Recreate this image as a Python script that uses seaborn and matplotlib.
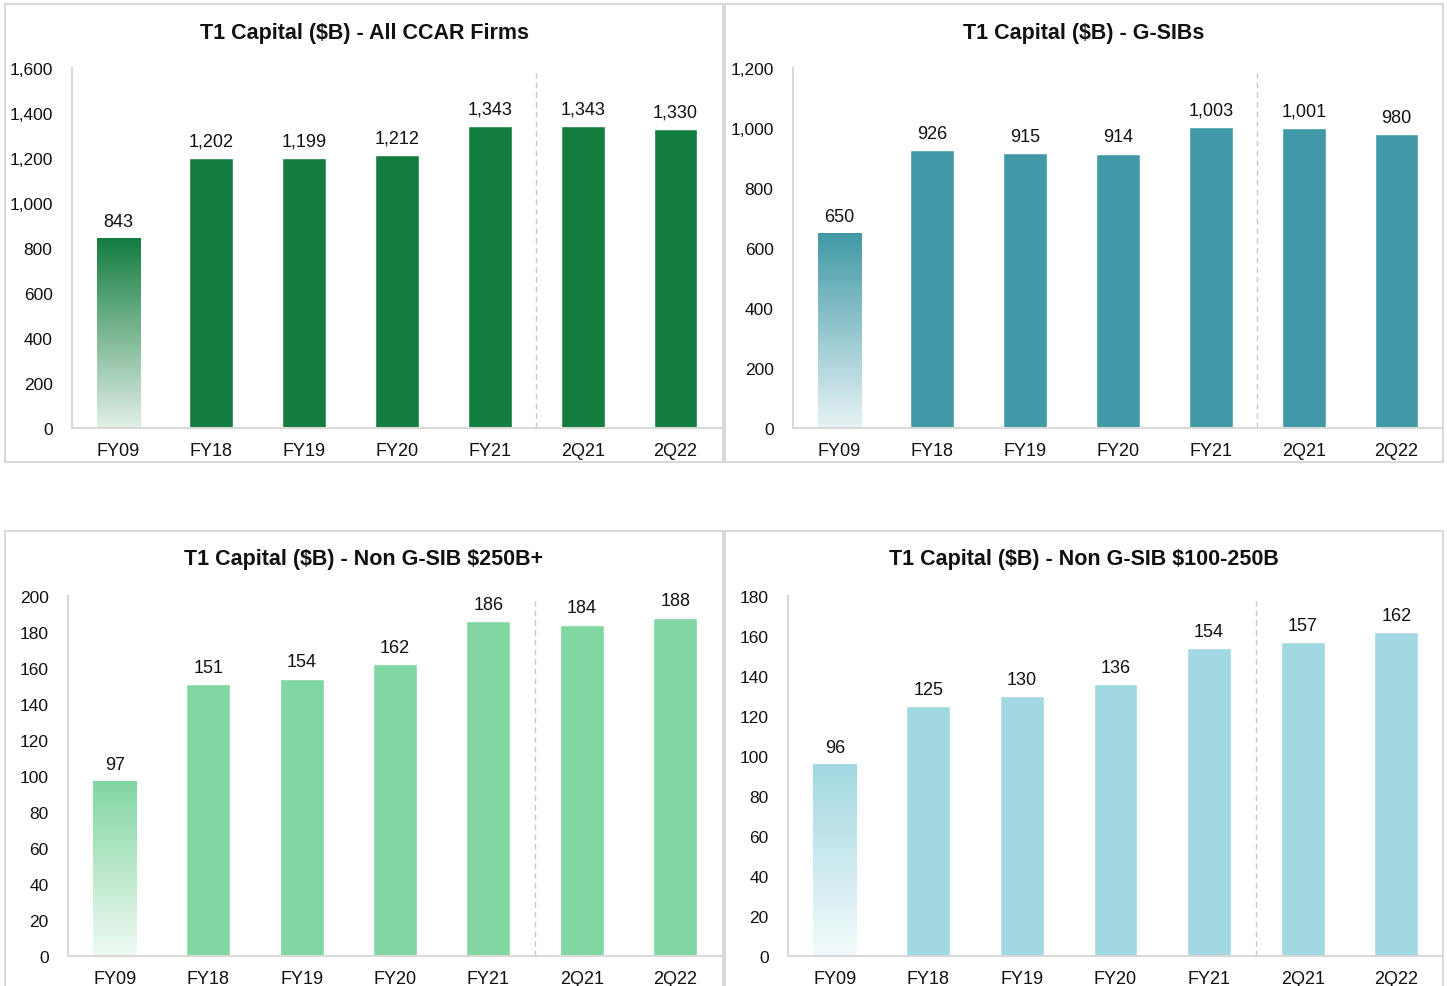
import numpy as np
import pandas as pd
import matplotlib
matplotlib.use("Agg")
import matplotlib.pyplot as plt
import seaborn as sns
from matplotlib.colors import LinearSegmentedColormap, to_rgb
from matplotlib.patches import Rectangle
from matplotlib.ticker import FuncFormatter

periods = ["FY09", "FY18", "FY19", "FY20", "FY21", "2Q21", "2Q22"]
all_ccar = [843, 1202, 1199, 1212, 1343, 1343, 1330]
gsibs = [650, 926, 915, 914, 1003, 1001, 980]
non_gsib_250 = [97, 151, 154, 162, 186, 184, 188]
non_gsib_100_250 = [96, 125, 130, 136, 154, 157, 162]

titles = [
    r"T1 Capital (\$B) - All CCAR Firms",
    r"T1 Capital (\$B) - G-SIBs",
    r"T1 Capital (\$B) - Non G-SIB \$250B+",
    r"T1 Capital (\$B) - Non G-SIB \$100-250B",
]
colors = ["#137d3f", "#4199a8", "#82d6a2", "#a2d8e1"]
y_max = [1600, 1200, 200, 180]
y_step = [200, 200, 20, 20]

sns.set_style("white")
plt.rcParams["font.family"] = ["Liberation Sans", "DejaVu Sans"]

fig = plt.figure(figsize=(14.47, 9.87), dpi=100)
W, H = 1447, 987

# axes boxes in pixels: left, right, top, bottom
ax_px = [(72, 722, 69, 429), (793, 1443, 69, 429),
         (68, 722, 597, 957), (788, 1443, 597, 957)]
panel_px = [(5, 723, 5, 463), (725, 1443, 5, 463),
            (5, 723, 532, 995), (725, 1443, 532, 995)]
title_y = [33, 33, 560, 560]

series = [all_ccar, gsibs, non_gsib_250, non_gsib_100_250]

for i in range(4):
    px0, px1, py0, py1 = panel_px[i]
    fig.patches.append(Rectangle((px0 / W, 1 - py1 / H), (px1 - px0) / W, (py1 - py0) / H,
                                 transform=fig.transFigure, fill=False,
                                 edgecolor="#d9d9d9", linewidth=1.5))
    fig.text((px0 + px1) / 2 / W, 1 - title_y[i] / H, titles[i], ha="center", va="center",
             fontsize=15.5, fontweight="bold", color="#111111")

    l, r, t, b = ax_px[i]
    ax = fig.add_axes([l / W, 1 - b / H, (r - l) / W, (b - t) / H])
    df = pd.DataFrame({"period": periods, "value": series[i]})
    sns.barplot(data=df, x="period", y="value", color=colors[i], saturation=1,
                width=0.47, ax=ax)

    # gradient fill for the first bar
    p = ax.patches[0]
    x0, w, h = p.get_x(), p.get_width(), p.get_height()
    rgb = np.array(to_rgb(colors[i]))
    light = rgb + (1 - rgb) * 0.88
    cmap = LinearSegmentedColormap.from_list("g", [light, rgb])
    grad = np.linspace(0, 1, 256).reshape(-1, 1)
    ax.imshow(grad, extent=[x0, x0 + w, 0, h], origin="lower", aspect="auto",
              cmap=cmap, zorder=p.get_zorder())
    p.set_visible(False)

    for j, v in enumerate(series[i]):
        ax.annotate(f"{v:,}", (j, v), xytext=(0, 6), textcoords="offset points",
                    ha="center", va="bottom", fontsize=13, color="#111111")

    ax.axvline(4.5, color="#c8c8c8", linestyle=(0, (4, 3)), linewidth=1)
    ax.set_xlim(-0.5, 6.5)
    ax.set_ylim(0, y_max[i])
    ax.set_yticks(np.arange(0, y_max[i] + 1, y_step[i]))
    ax.yaxis.set_major_formatter(FuncFormatter(lambda v, _: f"{int(v):,}"))
    ax.tick_params(axis="y", length=0, pad=14, labelsize=12.5, labelcolor="#111111")
    ax.tick_params(axis="x", length=0, pad=10, labelsize=13, labelcolor="#111111")
    ax.set_xlabel("")
    ax.set_ylabel("")
    for s in ["top", "right"]:
        ax.spines[s].set_visible(False)
    for s in ["left", "bottom"]:
        ax.spines[s].set_color("#d9d9d9")
        ax.spines[s].set_linewidth(1.5)
    ax.set_facecolor("none")

plt.savefig("out.png", dpi=100)
